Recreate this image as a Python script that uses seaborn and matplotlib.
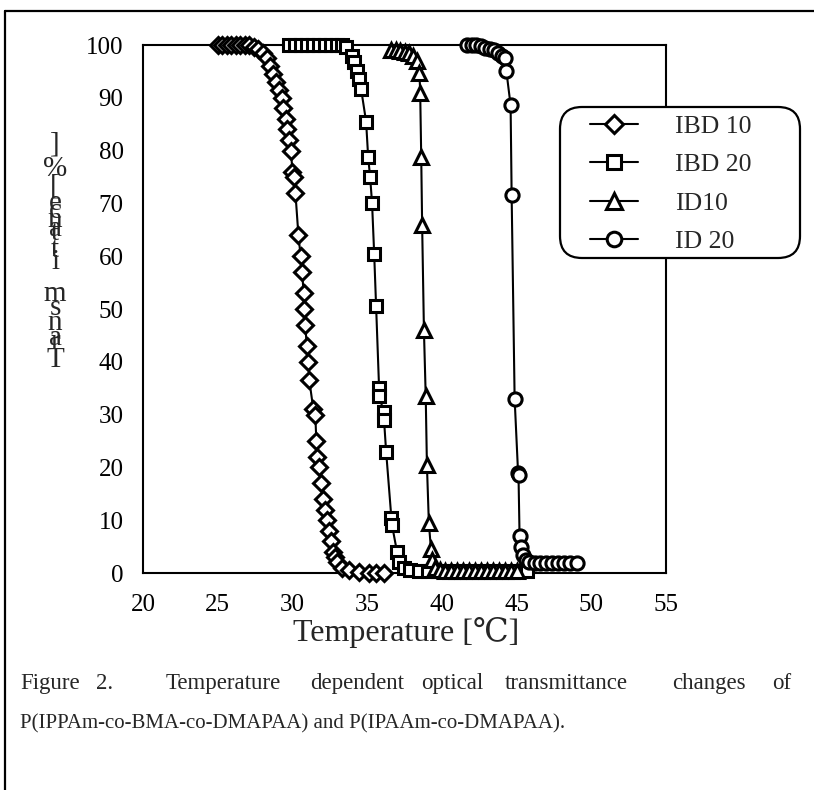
import numpy as np
import pandas as pd
import matplotlib
matplotlib.use("Agg")
import matplotlib.pyplot as plt
from matplotlib.lines import Line2D
from matplotlib.patches import FancyBboxPatch
from matplotlib.transforms import IdentityTransform
import seaborn as sns

# ---- data ----
ibd10_T = [25.0, 25.3, 25.6, 25.9, 26.2, 26.5, 26.8, 27.1, 27.4, 27.7, 28.0, 28.3,
           28.5, 28.7, 28.9, 29.1, 29.3, 29.4, 29.55, 29.65, 29.75, 29.9, 30.0, 30.1,
           30.2, 30.4, 30.55, 30.65, 30.75, 30.8, 30.87, 30.95, 31.07, 31.13, 31.4, 31.53,
           31.6, 31.67, 31.8, 31.93, 32.07, 32.2, 32.33, 32.47, 32.6, 32.73, 32.87, 33.0,
           33.33, 33.8, 34.47, 35.13, 35.6, 36.13]
ibd10_val = [100, 100, 100, 100, 100, 100, 100, 100, 99.7, 99.3, 98.5, 97.5,
             96, 94.5, 93, 91.5, 90, 88, 86, 84, 82, 80, 76, 75,
             72, 64, 60, 57, 53, 50, 47, 43, 40, 36.5, 31, 30,
             25, 22, 20, 17, 14, 12, 10, 8, 6, 4, 3, 2,
             1, 0.5, 0.2, 0, 0, 0]

ibd20_T = [29.8, 30.2, 30.6, 31.0, 31.4, 31.8, 32.2, 32.6, 33.0, 33.3, 33.6, 34.0,
           34.15, 34.3, 34.45, 34.6, 34.93, 35.07, 35.2, 35.33, 35.47, 35.6, 35.8, 35.82,
           36.1, 36.13, 36.27, 36.62, 36.67, 37.0, 37.13, 37.47, 37.9, 38.5, 39.1, 39.7,
           40.3, 40.9, 41.5, 42.1, 42.7, 43.3, 43.9, 44.5, 45.1, 45.67]
ibd20_val = [100, 100, 100, 100, 100, 100, 100, 100, 100, 100, 99.7, 98,
             96.8, 95, 93.5, 91.6, 85.5, 78.7, 75, 70, 60.5, 50.5, 35, 33.5,
             30.5, 29, 23, 10.5, 9, 4, 2, 1, 0.5, 0.3, 0.3, 0.3,
             0.3, 0.3, 0.3, 0.3, 0.3, 0.3, 0.3, 0.3, 0.3, 0.3]

id10_T = [36.6, 36.9, 37.2, 37.5, 37.8, 38.1, 38.35, 38.5, 38.55, 38.62, 38.68, 38.8,
          38.92, 39.0, 39.13, 39.27, 39.35, 39.55, 39.85, 40.2, 40.6, 41.0, 41.4, 41.8,
          42.2, 42.6, 43.0, 43.4, 43.8, 44.2, 44.6, 45.0]
id10_val = [99, 99, 98.8, 98.7, 98.5, 98, 97, 94.7, 91, 78.7, 66, 46,
            33.5, 20.5, 9.5, 4.5, 2.5, 1, 0.5, 0.3, 0.3, 0.3, 0.3, 0.3,
            0.3, 0.3, 0.3, 0.3, 0.3, 0.3, 0.3, 0.3]

id20_T = [41.7, 42.0, 42.3, 42.6, 42.9, 43.2, 43.5, 43.75, 44.0, 44.25, 44.32, 44.6,
          44.67, 44.87, 45.1, 45.13, 45.2, 45.3, 45.4, 45.6, 45.8, 46.2, 46.6, 47.0,
          47.4, 47.8, 48.2, 48.6, 49.05]
id20_val = [100, 100, 100, 99.8, 99.5, 99.2, 99, 98.5, 98, 97.5, 95, 88.6,
            71.5, 33, 19, 18.5, 7, 5, 3.5, 2.5, 2, 1.9, 1.9, 1.9,
            1.9, 1.9, 1.9, 1.9, 1.9]

series_names = ["IBD 10", "IBD 20", "ID10", "ID 20"]
series_markers = ["D", "s", "^", "o"]

frames = []
for name, xs, ys in zip(series_names,
                        [ibd10_T, ibd20_T, id10_T, id20_T],
                        [ibd10_val, ibd20_val, id10_val, id20_val]):
    frames.append(pd.DataFrame({"T": xs, "val": ys, "series": name}))
df = pd.concat(frames, ignore_index=True)

x_ticks = [20, 25, 30, 35, 40, 45, 50, 55]
y_ticks = [0, 10, 20, 30, 40, 50, 60, 70, 80, 90, 100]

# ---- figure ----
sns.set_style("white")
serif = ["Liberation Serif", "DejaVu Serif"]
plt.rcParams["font.family"] = serif

W, H = 814, 790
fig = plt.figure(figsize=(W / 100, H / 100), dpi=100)
ax_l, ax_r, ax_t, ax_b = 143, 666, 45, 573
ax = fig.add_axes([ax_l / W, 1 - ax_b / H, (ax_r - ax_l) / W, (ax_b - ax_t) / H])

msizes = {"D": 8.5, "s": 8.5, "^": 10, "o": 9.5}
for name, mk in zip(series_names, series_markers):
    sub = df[df["series"] == name]
    sns.lineplot(data=sub, x="T", y="val", ax=ax, color="black", lw=1.5,
                 marker=mk, markersize=msizes[mk], markerfacecolor="white",
                 markeredgecolor="black", markeredgewidth=2.2,
                 sort=False, estimator=None, clip_on=False, zorder=3, legend=False)

ax.set_xlim(20, 55)
ax.set_ylim(0, 100)
ax.set_xticks(x_ticks)
ax.set_yticks(y_ticks)
ax.set_xticklabels([str(v) for v in x_ticks])
ax.set_yticklabels([str(v) for v in y_ticks])
ax.tick_params(axis="both", direction="in", length=5, width=1.2, labelsize=18,
               colors="black")
ax.tick_params(axis="x", pad=15, top=False)
ax.tick_params(axis="y", pad=14, right=False)
for sp in ax.spines.values():
    sp.set_visible(True)
    sp.set_color("black")
    sp.set_linewidth(1.5)
ax.set_xlabel("")
ax.set_ylabel("")

# x label
fig.text(406 / W, 1 - 633 / H, "Temperature [℃]", ha="center", va="center",
         fontsize=23, family=serif)

# garbled stacked y label (as in the reference)
ylab_chars = ["]", "%", "[", "e", "c", "n", "a", "t", "t", "i", "m", "s", "n", "a", "r", "T"]
ylab_pos = [145, 169, 186, 203, 211, 220, 229, 233, 250, 262, 294, 308, 323, 338, 342, 360]
for ch, py in zip(ylab_chars, ylab_pos):
    fig.text(55 / W, 1 - py / H, ch, ha="center", va="center", fontsize=21, family=serif)

# legend box (rounded) and legend entries
box = FancyBboxPatch((560, H - 258), 240, 151,
                     boxstyle="round,pad=0,rounding_size=22",
                     transform=IdentityTransform(), facecolor="white",
                     edgecolor="black", linewidth=1.6, zorder=9)
fig.add_artist(box)
handles = [Line2D([0], [0], color="black", lw=1.5, marker=m, markersize=msizes[m] + 1,
                  markerfacecolor="white", markeredgecolor="black", markeredgewidth=2.2)
           for m in series_markers]
leg = fig.legend(handles, series_names, loc="upper left",
                 bbox_to_anchor=(590 / W, 1 - 115 / H), bbox_transform=fig.transFigure,
                 prop={"family": serif, "size": 18.5}, frameon=False,
                 handlelength=1.87, handletextpad=1.44, labelspacing=0.6,
                 borderpad=0, borderaxespad=0)
leg.set_zorder(12)

# caption
line1_words = ["Figure", "2.", "Temperature", "dependent", "optical", "transmittance", "changes", "of"]
line1_x = [20, 96, 166, 310, 421, 505, 672, 772]
for w_, px in zip(line1_words, line1_x):
    fig.text(px / W, 1 - 689 / H, w_, ha="left", va="baseline", fontsize=16.5, family=serif)
fig.text(20 / W, 1 - 728 / H, "P(IPPAm-co-BMA-co-DMAPAA) and P(IPAAm-co-DMAPAA).",
         ha="left", va="baseline", fontsize=15, family=serif)

# frame lines of the figure panel
fig.add_artist(Line2D([5 / W, 1], [1 - 11 / H, 1 - 11 / H], color="black", lw=1.6,
                      transform=fig.transFigure))
fig.add_artist(Line2D([5 / W, 5 / W], [0, 1 - 11 / H], color="black", lw=1.6,
                      transform=fig.transFigure))

fig.savefig("out.png", dpi=100, facecolor="white")
